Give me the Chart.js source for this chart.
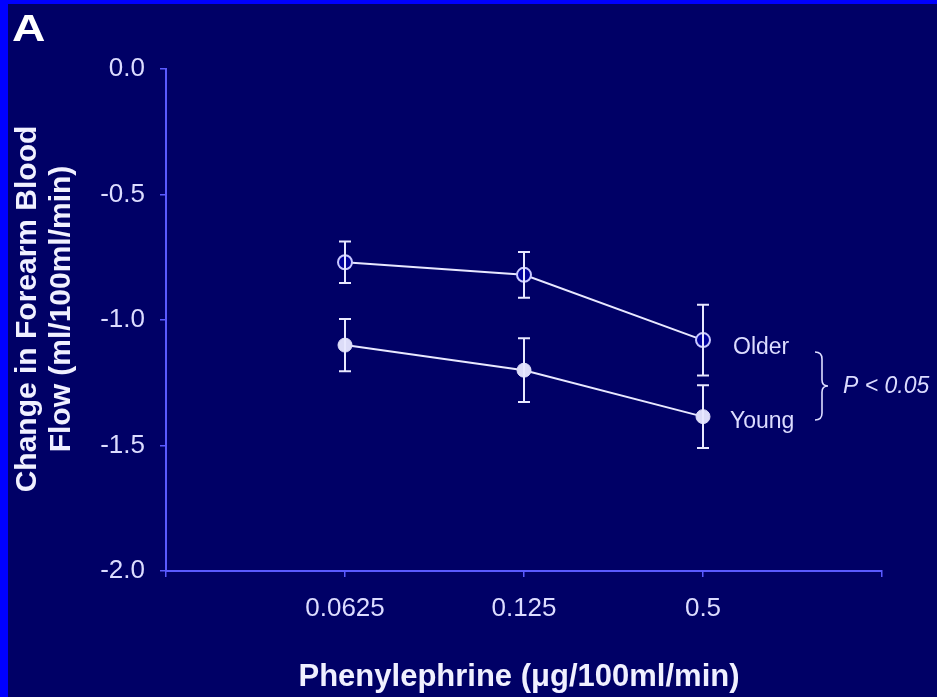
<!DOCTYPE html>
<html>
<head>
<meta charset="utf-8">
<script src="https://cdn.jsdelivr.net/npm/chart.js@4/dist/chart.umd.min.js"></script>
<style>
  html, body { margin: 0; padding: 0; background: #000066; }
  #wrap { position: relative; width: 937px; height: 697px; box-sizing: border-box;
          border-left: 8px solid #0000ff; border-top: 4px solid #0000ff; background: #000066; }
  #c { position: absolute; left: -8px; top: -4px; }
</style>
</head>
<body>
<div id="wrap"><canvas id="c" width="937" height="697"></canvas></div>
<script>
// ---- data ----
const doses = ["0.0625", "0.125", "0.5"];
const xTickLabels = ["", "0.0625", "0.125", "0.5", ""];
const yTickLabels = ["0.0", "-0.5", "-1.0", "-1.5", "-2.0"];
const olderValues = [-0.77, -0.82, -1.08];
const olderErr    = [0.083, 0.091, 0.141];
const youngValues = [-1.10, -1.20, -1.385];
const youngErr    = [0.104, 0.127, 0.125];
const seriesNames = ["Older", "Young"];
const pText = "P < 0.05";

const lineCol = "#e8e8ff";
const axisCol = "#5a5aff";
const textCol = "#dcdcff";
const FONT = "'Liberation Sans', Arial, sans-serif";

function pts(vals) { return vals.map((v, i) => ({ x: i + 1, y: v })); }

const errorBars = {
  id: 'errorBars',
  afterDatasetsDraw(chart) {
    const ctx = chart.ctx, xs = chart.scales.x, ys = chart.scales.y;
    const sets = [[olderValues, olderErr], [youngValues, youngErr]];
    ctx.save();
    ctx.strokeStyle = lineCol; ctx.lineWidth = 2;
    sets.forEach(([vals, errs]) => {
      vals.forEach((v, i) => {
        const px = xs.getPixelForValue(i + 1);
        const top = ys.getPixelForValue(v + errs[i]);
        const bot = ys.getPixelForValue(v - errs[i]);
        ctx.beginPath();
        ctx.moveTo(px, top); ctx.lineTo(px, bot);
        ctx.moveTo(px - 6, top); ctx.lineTo(px + 6, top);
        ctx.moveTo(px - 6, bot); ctx.lineTo(px + 6, bot);
        ctx.stroke();
      });
    });
    ctx.restore();
  }
};

const annotations = {
  id: 'annotations',
  afterDraw(chart) {
    const ctx = chart.ctx, xs = chart.scales.x, ys = chart.scales.y;
    ctx.save();
    // panel letter
    ctx.fillStyle = "#ffffff";
    ctx.save();
    ctx.translate(12, 41); ctx.scale(1.25, 1);
    ctx.font = "bold 37px " + FONT;
    ctx.textBaseline = "alphabetic"; ctx.textAlign = "left";
    ctx.fillText("A", 0, 0);
    ctx.restore();
    // x title
    ctx.font = "bold 31px " + FONT;
    ctx.textAlign = "center"; ctx.textBaseline = "middle";
    ctx.fillStyle = "#f0f0ff";
    ctx.fillText("Phenylephrine (\u03bcg/100ml/min)", 519, 677);
    // y title
    ctx.save();
    ctx.translate(28, 309); ctx.rotate(-Math.PI / 2);
    ctx.font = "bold 30px " + FONT;
    ctx.fillText("Change in Forearm Blood", 0, 0);
    ctx.fillText("Flow (ml/100ml/min)", 0, 34);
    ctx.restore();
    // series labels
    const lx = xs.getPixelForValue(3) + 28;
    ctx.font = "23px " + FONT;
    ctx.textAlign = "left"; ctx.textBaseline = "middle"; ctx.fillStyle = textCol;
    const yo = ys.getPixelForValue(olderValues[2]) + 8;
    const yy = ys.getPixelForValue(youngValues[2]) + 5;
    ctx.fillText(seriesNames[0], lx + 2, yo);
    ctx.fillText(seriesNames[1], lx - 1, yy);
    // brace
    const bx = 815, bt = 352, bb = 420, bm = (bt + bb) / 2;
    ctx.strokeStyle = textCol; ctx.lineWidth = 1.6;
    ctx.beginPath();
    ctx.moveTo(bx, bt);
    ctx.quadraticCurveTo(bx + 7, bt, bx + 7, bt + 7);
    ctx.lineTo(bx + 7, bm - 6);
    ctx.quadraticCurveTo(bx + 7, bm, bx + 13, bm);
    ctx.quadraticCurveTo(bx + 7, bm, bx + 7, bm + 6);
    ctx.lineTo(bx + 7, bb - 7);
    ctx.quadraticCurveTo(bx + 7, bb, bx, bb);
    ctx.stroke();
    ctx.font = "italic 23px " + FONT;
    ctx.fillText(pText, 843, bm + 1);
    ctx.restore();
  }
};

new Chart(document.getElementById('c'), {
  type: 'line',
  data: {
    datasets: [
      { label: seriesNames[0], data: pts(olderValues), borderColor: lineCol, borderWidth: 2,
        pointRadius: 7, pointBackgroundColor: "#000099", pointBorderColor: "#c8c8ff", pointBorderWidth: 2 },
      { label: seriesNames[1], data: pts(youngValues), borderColor: lineCol, borderWidth: 2,
        pointRadius: 7, pointBackgroundColor: "#dcdcf8", pointBorderColor: "#dcdcf8", pointBorderWidth: 1 }
    ]
  },
  options: {
    responsive: false, animation: false,
    layout: { padding: { left: 0, right: 55, top: 69, bottom: 0 } },
    plugins: { legend: { display: false }, tooltip: { enabled: false } },
    scales: {
      x: {
        type: 'linear', min: 0, max: 4,
        afterFit(s) { s.height = 697 - 571; },
        afterBuildTicks(s) { s.ticks = xTickLabels.map((_, i) => ({ value: i })); },
        ticks: { callback: (v, i) => xTickLabels[i], color: textCol, padding: 16,
                 font: { size: 26, family: FONT }, maxRotation: 0, autoSkip: false },
        grid: { display: true, drawOnChartArea: false, drawTicks: true, tickLength: 6, color: axisCol, lineWidth: 1.5 },
        border: { display: true, color: axisCol, width: 2 }
      },
      y: {
        type: 'linear', min: -2, max: 0,
        afterFit(s) { s.width = 166; },
        afterBuildTicks(s) { s.ticks = yTickLabels.map(t => ({ value: parseFloat(t) })); },
        ticks: { callback: (v, i) => yTickLabels[i], color: textCol, padding: 15,
                 font: { size: 26, family: FONT } },
        grid: { display: true, drawOnChartArea: false, drawTicks: true, tickLength: 6, color: axisCol, lineWidth: 1.5 },
        border: { display: true, color: axisCol, width: 2 }
      }
    }
  },
  plugins: [errorBars, annotations]
});
</script>
</body>
</html>
